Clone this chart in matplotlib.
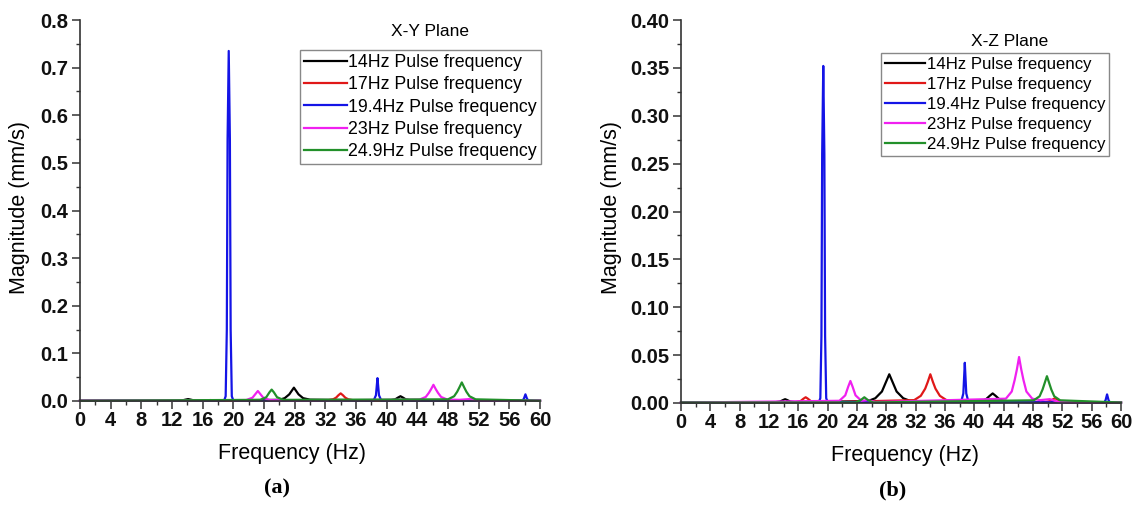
import matplotlib
matplotlib.use("Agg")
import matplotlib.pyplot as plt
from matplotlib.ticker import MultipleLocator, FormatStrFormatter

# ---------------- data ----------------
series_labels = ["14Hz Pulse frequency", "17Hz Pulse frequency", "19.4Hz Pulse frequency",
                 "23Hz Pulse frequency", "24.9Hz Pulse frequency"]
series_colors = ["#000000", "#e01818", "#1414e6", "#f020f0", "#22902a"]

# X-Y plane
xy_black_f = [0, 12.6, 13.4, 13.8, 14.1, 14.4, 14.8, 15.6, 26.0, 26.7, 27.3, 27.6, 27.9, 28.2, 28.5, 29.1, 30.0,
              40.3, 41.1, 41.5, 41.8, 42.1, 42.5, 43.3, 60]
xy_black_m = [0.0005, 0.0008, 0.0015, 0.003, 0.004, 0.003, 0.0015, 0.0008, 0.0025, 0.006, 0.014, 0.021, 0.028,
              0.021, 0.014, 0.006, 0.0028, 0.001, 0.0034, 0.0074, 0.010, 0.0074, 0.0034, 0.001, 0.0005]
xy_red_f = [0, 15.5, 16.3, 17.0, 17.7, 18.5, 32.2, 33.0, 33.4, 33.7, 34.0, 34.3, 34.6, 35.0, 35.8,
            49.5, 50.3, 51.0, 51.7, 52.5, 60]
xy_red_m = [0.0003, 0.0004, 0.001, 0.002, 0.001, 0.0004, 0.0012, 0.0035, 0.007, 0.012, 0.016, 0.012, 0.007,
            0.0035, 0.0012, 0.0004, 0.0012, 0.003, 0.0012, 0.0004, 0.0003]
xy_blue_f = [0, 18.8, 19.0, 19.15, 19.25, 19.4, 19.55, 19.65, 19.8, 20.0, 38.3, 38.6, 38.7, 38.8, 38.9, 39.0, 39.3,
             57.7, 57.9, 58.1, 58.3, 58.5, 60]
xy_blue_m = [0.0003, 0.001, 0.01, 0.15, 0.55, 0.735, 0.55, 0.15, 0.01, 0.001, 0.001, 0.012, 0.03, 0.048, 0.03,
             0.012, 0.001, 0.0005, 0.005, 0.014, 0.005, 0.0005, 0.0003]
xy_mag_f = [0, 21.7, 22.5, 22.9, 23.2, 23.5, 23.9, 24.7, 25.5, 26.5, 27.5, 44.3, 45.1, 45.5, 45.8, 46.1, 46.4,
            46.7, 47.1, 47.9, 49.5, 50.8, 52.0, 60]
xy_mag_m = [0.0004, 0.002, 0.007, 0.015, 0.021, 0.015, 0.007, 0.002, 0.0015, 0.002, 0.0008, 0.003, 0.0085, 0.017,
            0.025, 0.034, 0.025, 0.017, 0.0085, 0.003, 0.0025, 0.004, 0.001, 0.0004]
xy_green_f = [0, 23.5, 24.3, 24.7, 25.0, 25.3, 25.7, 26.5, 48.0, 48.8, 49.2, 49.5, 49.8, 50.1, 50.4, 50.8, 51.6, 60]
xy_green_m = [0.0005, 0.0024, 0.008, 0.018, 0.024, 0.018, 0.008, 0.0024, 0.0035, 0.01, 0.0195, 0.029, 0.039,
              0.029, 0.0195, 0.01, 0.0035, 0.0005]

# X-Z plane
xz_black_f = [0, 12.7, 13.5, 13.9, 14.2, 14.5, 14.9, 15.7, 25.5, 26.5, 27.4, 27.9, 28.4, 28.9, 29.4, 30.3, 31.3,
              40.8, 41.6, 42.1, 42.5, 42.9, 43.4, 44.2, 60]
xz_black_m = [0.0005, 0.0007, 0.0015, 0.003, 0.004, 0.003, 0.0015, 0.0007, 0.002, 0.005, 0.012, 0.021, 0.030,
              0.021, 0.012, 0.005, 0.002, 0.0012, 0.004, 0.0075, 0.010, 0.0075, 0.004, 0.0012, 0.0005]
xz_red_f = [0, 15.5, 16.3, 16.7, 17.0, 17.3, 17.7, 18.5, 31.8, 32.7, 33.3, 33.65, 34.0, 34.35, 34.7, 35.3, 36.2,
            49.5, 50.3, 51.0, 51.7, 52.5, 60]
xz_red_m = [0.0004, 0.0006, 0.002, 0.0045, 0.006, 0.0045, 0.002, 0.0006, 0.003, 0.0075, 0.015, 0.022, 0.030,
            0.022, 0.015, 0.0075, 0.003, 0.0006, 0.002, 0.005, 0.002, 0.0006, 0.0004]
xz_blue_f = [0, 18.8, 19.0, 19.15, 19.25, 19.4, 19.55, 19.65, 19.8, 20.0, 38.2, 38.5, 38.6, 38.7, 38.8, 38.9, 39.2,
             57.7, 57.9, 58.1, 58.3, 58.5, 60]
xz_blue_m = [0.0003, 0.001, 0.005, 0.07, 0.26, 0.352, 0.26, 0.07, 0.005, 0.001, 0.001, 0.01, 0.026, 0.042, 0.026,
             0.01, 0.001, 0.0005, 0.003, 0.009, 0.003, 0.0005, 0.0003]
xz_mag_f = [0, 21.6, 22.4, 22.8, 23.1, 23.4, 23.8, 24.6, 25.5, 26.5, 44.3, 45.1, 45.5, 45.8, 46.1, 46.4, 46.7,
            47.1, 47.9, 49.0, 50.3, 51.5, 60]
xz_mag_m = [0.0004, 0.0023, 0.008, 0.017, 0.023, 0.017, 0.008, 0.0023, 0.003, 0.001, 0.0045, 0.012, 0.024, 0.035,
            0.048, 0.035, 0.024, 0.012, 0.0045, 0.003, 0.004, 0.001, 0.0004]
xz_green_f = [0, 23.8, 24.5, 25.0, 25.5, 26.2, 48.1, 48.9, 49.3, 49.6, 49.9, 50.2, 50.5, 50.9, 51.7, 60]
xz_green_m = [0.0005, 0.0006, 0.003, 0.006, 0.003, 0.0006, 0.0028, 0.007, 0.014, 0.021, 0.028, 0.021, 0.014,
              0.007, 0.0028, 0.0005]

xy_series = [(xy_black_f, xy_black_m), (xy_red_f, xy_red_m), (xy_blue_f, xy_blue_m),
             (xy_mag_f, xy_mag_m), (xy_green_f, xy_green_m)]
xz_series = [(xz_black_f, xz_black_m), (xz_red_f, xz_red_m), (xz_blue_f, xz_blue_m),
             (xz_mag_f, xz_mag_m), (xz_green_f, xz_green_m)]

# ---------------- figure ----------------
W, H = 1133, 505
fig = plt.figure(figsize=(W / 100, H / 100), dpi=100)
SANS = "Liberation Sans"


def px(x, y):
    return x / W, 1 - y / H


def setup(ax, ymax, ymajor, fmt):
    ax.set_xlim(0, 60)
    ax.set_ylim(0, ymax)
    for s in ("top", "right"):
        ax.spines[s].set_visible(False)
    for s in ("left", "bottom"):
        ax.spines[s].set_linewidth(1.2)
        ax.spines[s].set_color("#333333")
    ax.xaxis.set_major_locator(MultipleLocator(4))
    ax.xaxis.set_minor_locator(MultipleLocator(2))
    ax.yaxis.set_major_locator(MultipleLocator(ymajor))
    ax.yaxis.set_minor_locator(MultipleLocator(ymajor / 2))
    ax.yaxis.set_major_formatter(FormatStrFormatter(fmt))
    ax.tick_params(which="major", direction="out", length=5.5, width=1.1, color="#333333", pad=2)
    ax.tick_params(which="minor", direction="out", length=3, width=1.0, color="#333333")
    ax.tick_params(axis="y", pad=3)
    for lab in ax.get_xticklabels() + ax.get_yticklabels():
        lab.set_fontfamily(SANS)
        lab.set_fontweight("bold")
        lab.set_fontsize(14.5)
        lab.set_color("#111111")


panels = [
    dict(rect=[80 / W, 1 - 401 / H, 460 / W, 381 / H], data=xy_series, ymax=0.8, ymaj=0.1, fmt="%.1f",
         title="X-Y Plane", title_xy=(430, 32), leg_xy=(300, 50), leg_fs=12.8, xlab_xy=(292, 453),
         ylab_xy=(20, 208), tag="(a)", tag_xy=(277, 488)),
    dict(rect=[681 / W, 1 - 403 / H, 440 / W, 383 / H], data=xz_series, ymax=0.40, ymaj=0.05, fmt="%.2f",
         title="X-Z Plane", title_xy=(1010, 42), leg_xy=(881, 53), leg_fs=12.1, xlab_xy=(905, 455),
         ylab_xy=(611, 208), tag="(b)", tag_xy=(893, 490)),
]

for p in panels:
    ax = fig.add_axes(p["rect"])
    lines = []
    for (f, m), c, lab in zip(p["data"], series_colors, series_labels):
        ln, = ax.plot(f, m, color=c, lw=1.6, label=lab, clip_on=False, solid_joinstyle="round")
        lines.append(ln)
    setup(ax, p["ymax"], p["ymaj"], p["fmt"])
    leg = fig.legend(handles=lines, loc="upper left", bbox_to_anchor=px(*p["leg_xy"]),
                     prop={"family": SANS, "size": p["leg_fs"]}, frameon=True, fancybox=False,
                     edgecolor="#888888", framealpha=1, borderpad=0.22, labelspacing=0.3,
                     handlelength=2.4, handletextpad=0.1, borderaxespad=0)
    leg.get_frame().set_linewidth(1.0)
    fig.text(*px(*p["title_xy"]), p["title"], family=SANS, fontsize=12.5, ha="center", va="center")
    fig.text(*px(*p["xlab_xy"]), "Frequency (Hz)", family=SANS, fontsize=15.5, ha="center", va="center")
    fig.text(*px(*p["ylab_xy"]), "Magnitude (mm/s)", family=SANS, fontsize=15.5, ha="center", va="center",
             rotation=90)
    fig.text(*px(*p["tag_xy"]), p["tag"], family="Liberation Serif", fontweight="bold", fontsize=16,
             ha="center", va="center")

fig.savefig("out.png", dpi=100)
